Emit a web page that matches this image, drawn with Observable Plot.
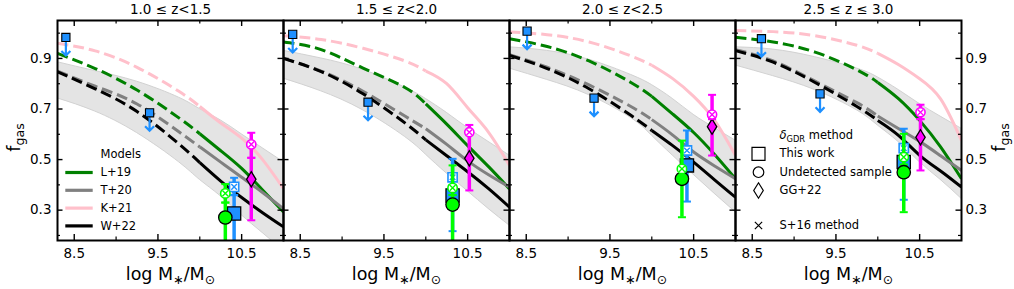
<!DOCTYPE html>
<html><head><meta charset="utf-8">
<script src="https://cdn.jsdelivr.net/npm/d3@7"></script>
<script src="https://cdn.jsdelivr.net/npm/@observablehq/plot@0.6"></script>
<style>body{margin:0;background:#fff} svg{display:block}</style>
</head><body><div id="chart"></div>
<script>
// ---------- data ----------
const panels = ["1.0 ≤ z<1.5", "1.5 ≤ z<2.0", "2.0 ≤ z<2.5", "2.5 ≤ z ≤ 3.0"];
const masses = [8.3, 8.75, 9.25, 9.75, 10.0, 10.25, 10.5, 10.75, 11.0];
const dashedUntil = 10.0;

const L19 = [
  [0.920, 0.860, 0.775, 0.665, 0.602, 0.535, 0.465, 0.380, 0.293],
  [0.965, 0.935, 0.862, 0.785, 0.720, 0.640, 0.555, 0.472, 0.384],
  [0.978, 0.947, 0.890, 0.805, 0.750, 0.680, 0.607, 0.520, 0.424],
  [0.984, 0.965, 0.925, 0.855, 0.805, 0.740, 0.655, 0.550, 0.424]
];
const T20 = [
  [0.850, 0.790, 0.720, 0.610, 0.550, 0.490, 0.430, 0.370, 0.305],
  [0.900, 0.850, 0.770, 0.672, 0.622, 0.560, 0.495, 0.440, 0.391],
  [0.915, 0.865, 0.795, 0.710, 0.658, 0.597, 0.530, 0.475, 0.424],
  [0.935, 0.890, 0.810, 0.725, 0.672, 0.622, 0.572, 0.515, 0.457]
];
const K21 = [
  [0.960, 0.930, 0.865, 0.770, 0.710, 0.645, 0.585, 0.500, 0.385],
  [0.990, 0.975, 0.940, 0.890, 0.850, 0.800, 0.705, 0.608, 0.477],
  [1.005, 0.994, 0.965, 0.910, 0.873, 0.820, 0.750, 0.655, 0.516],
  [1.010, 1.006, 0.990, 0.952, 0.920, 0.875, 0.820, 0.740, 0.575]
];
const W22 = [
  [0.847, 0.780, 0.690, 0.562, 0.488, 0.415, 0.350, 0.290, 0.234],
  [0.900, 0.848, 0.760, 0.645, 0.578, 0.515, 0.452, 0.385, 0.312],
  [0.912, 0.860, 0.780, 0.675, 0.615, 0.555, 0.490, 0.420, 0.351],
  [0.931, 0.885, 0.805, 0.710, 0.655, 0.595, 0.517, 0.455, 0.391]
];
const bandHi = [
  [0.885, 0.850, 0.808, 0.745, 0.700, 0.655, 0.600, 0.545, 0.490],
  [0.930, 0.900, 0.855, 0.785, 0.740, 0.685, 0.625, 0.570, 0.516],
  [0.944, 0.930, 0.895, 0.835, 0.795, 0.740, 0.677, 0.625, 0.575],
  [0.944, 0.935, 0.905, 0.860, 0.825, 0.775, 0.720, 0.670, 0.622]
];
const bandLo = [
  [0.742, 0.690, 0.605, 0.490, 0.420, 0.355, 0.280, 0.210, 0.140],
  [0.820, 0.770, 0.695, 0.590, 0.520, 0.445, 0.375, 0.305, 0.239],
  [0.860, 0.815, 0.755, 0.665, 0.595, 0.516, 0.440, 0.365, 0.292],
  [0.872, 0.830, 0.775, 0.695, 0.635, 0.569, 0.490, 0.420, 0.345]
];

// upper limits (blue squares with arrows)
const ulPanel = [0, 0, 1, 1, 2, 2, 3, 3];
const ulMass  = [8.40, 9.40, 8.41, 9.31, 8.51, 9.31, 8.61, 9.31];
const ulF     = [0.983, 0.685, 0.995, 0.727, 1.008, 0.743, 0.978, 0.760];

// This work (delta_GDR method) and its S+16 counterpart
const twMass = [10.41, 10.32, 10.42, 10.31];
const twF    = [0.287, 0.358, 0.477, 0.490];
const twLo   = [0.10, 0.217, 0.334, 0.341];
const twHi   = [0.36, 0.43, 0.50, 0.52];
const twsF   = [0.392, 0.430, 0.536, 0.545];
const twsLo  = [0.359, 0.40, 0.50, 0.52];
const twsHi  = [0.428, 0.503, 0.615, 0.622];

// Undetected sample
const udMass = [10.305, 10.32, 10.36, 10.31];
const udF    = [0.271, 0.322, 0.424, 0.450];
const udLo   = [0.10, 0.10, 0.272, 0.292];
const udHi   = [0.33, 0.36, 0.44, 0.48];
const udsF   = [0.366, 0.388, 0.463, 0.510];
const udsLo  = [0.33, 0.36, 0.44, 0.48];
const udsHi  = [0.403, 0.477, 0.575, 0.602];

// GG+22
const ggMass = [10.615, 10.52, 10.72, 10.51];
const ggF    = [0.422, 0.505, 0.630, 0.588];
const ggLo   = [0.26, 0.378, 0.516, 0.457];
const ggHi   = [0.507, 0.60, 0.66, 0.66];
const ggsF   = [0.560, 0.608, 0.678, 0.687];
const ggsLo  = [0.507, 0.60, 0.66, 0.66];
const ggsHi  = [0.606, 0.637, 0.756, 0.717];

const xMajor = [8.5, 9.5, 10.5], xMinor = [9.0, 10.0];
const yMajor = [0.3, 0.5, 0.7, 0.9], yMinor = [0.2, 0.4, 0.6, 0.8, 1.0];

const modelLabels = ["L+19", "T+20", "K+21", "W+22"];
const methodLabels = ["δ_{GDR} method", "This work", "Undetected sample", "GG+22", "S+16 method"];

// ---------- styling ----------
const BLUE = "#1e90ff", LIME = "#00ff00", MAG = "#ff00ff";
const models = [
  {key: "L+19", values: L19, color: "green"},
  {key: "T+20", values: T20, color: "grey"},
  {key: "K+21", values: K21, color: "pink"},
  {key: "W+22", values: W22, color: "black"}
];

const W = 1014, H = 289, mL = 56, mR = 52, mT = 20, mB = 49;
const fw = (W - mL - mR) / 4, fh = H - mT - mB;

// custom symbols
const hLine = {draw(c, s) { const h = Math.sqrt(s / Math.PI); c.moveTo(-h, 0); c.lineTo(h, 0); }};
const sq = {draw(c, s) { const h = Math.sqrt(s / Math.PI); c.moveTo(-h, -h); c.lineTo(h, -h); c.lineTo(h, h); c.lineTo(-h, h); c.closePath(); }};
const thinDiamond = {draw(c, s) { const h = Math.sqrt(s / Math.PI); c.moveTo(0, -h); c.lineTo(0.62 * h, 0); c.lineTo(0, h); c.lineTo(-0.62 * h, 0); c.closePath(); }};
const xCross = {draw(c, s) { const h = Math.sqrt(s / Math.PI) * 0.7071; c.moveTo(-h, -h); c.lineTo(h, h); c.moveTo(h, -h); c.lineTo(-h, h); }};
const downArrow = {draw(c) { c.moveTo(0, 0); c.lineTo(0, 18); c.moveTo(-4.5, 13.5); c.lineTo(0, 18); c.lineTo(4.5, 13.5); }};

// ---------- tables ----------
const lineRows = (vals) => panels.flatMap((p, i) => masses.map((m, j) => ({panel: p, mass: m, f: vals[i][j]})));
const bandRows = panels.flatMap((p, i) => masses.map((m, j) => ({panel: p, mass: m, lo: bandLo[i][j], hi: bandHi[i][j]})));
const ulRows = ulPanel.map((pi, k) => ({panel: panels[pi], x: ulMass[k], y: ulF[k]}));
const pts = (xs, ys, lo, hi) => panels.map((p, i) => ({panel: p, x: xs[i], y: ys[i], lo: lo[i], hi: hi[i]}));
const tw = pts(twMass, twF, twLo, twHi), tws = pts(twMass, twsF, twsLo, twsHi);
const ud = pts(udMass, udF, udLo, udHi), uds = pts(udMass, udsF, udsLo, udsHi);
const gg = pts(ggMass, ggF, ggLo, ggHi), ggs = pts(ggMass, ggsF, ggsLo, ggsHi);

function errorMarks(rows, color) {
  const caps = rows.flatMap(r => [{...r, v: r.lo}, {...r, v: r.hi}]);
  return [
    Plot.ruleX(rows, {fx: "panel", x: "x", y1: "lo", y2: "hi", stroke: color, strokeWidth: 3.5, clip: true}),
    Plot.dot(caps, {fx: "panel", x: "x", y: "v", symbol: hLine, r: 4, fill: "none", stroke: color, strokeWidth: 2, clip: true})
  ];
}
function crossedMarks(rows, color, symbol, r) {
  return [
    Plot.dot(rows, {fx: "panel", x: "x", y: "y", symbol, r, fill: "white", stroke: color, strokeWidth: 1.6}),
    Plot.dot(rows, {fx: "panel", x: "x", y: "y", symbol: xCross, r: r - 0.6, fill: "none", stroke: color, strokeWidth: 1.4})
  ];
}

const modelMarks = models.flatMap(md => {
  const rows = lineRows(md.values);
  return [
    Plot.line(rows.filter(d => d.mass <= dashedUntil), {fx: "panel", x: "mass", y: "f", curve: "natural", stroke: md.color, strokeWidth: 3, strokeDasharray: "11,5", strokeLinecap: "butt", clip: true}),
    Plot.line(rows.filter(d => d.mass >= dashedUntil), {fx: "panel", x: "mass", y: "f", curve: "natural", stroke: md.color, strokeWidth: 3, strokeLinecap: "butt", clip: true})
  ];
});

const P1 = [{panel: panels[0]}], P4 = [{panel: panels[3]}];
const legText = {fx: "panel", frameAnchor: "top-left", textAnchor: "start", lineAnchor: "middle", fontSize: 11.5};
const legendModels = [
  Plot.text(P1, {...legText, dx: 43, dy: 134, text: () => "Models"}),
  ...models.flatMap((md, i) => [
    Plot.dot(P1, {fx: "panel", frameAnchor: "top-left", dx: 21.5, dy: 152 + i * 17.8, symbol: hLine, r: 13.7, fill: "none", stroke: md.color, strokeWidth: 3.2}),
    Plot.text(P1, {...legText, dx: 43, dy: 152 + i * 17.8, text: () => modelLabels[i]})
  ])
];
const methodDy = [115, 133.3, 151.7, 170, 205];
const methodSym = [null, [sq, 6.5], ["circle", 5.3], [thinDiamond, 7.7], ["times", 3.4]];
const legendMethods = methodLabels.flatMap((lab, i) => {
  const m = [Plot.text(P4, {...legText, dx: 44, dy: methodDy[i], text: () => lab})];
  if (methodSym[i]) m.push(Plot.dot(P4, {fx: "panel", frameAnchor: "top-left", dx: 23, dy: methodDy[i], symbol: methodSym[i][0], r: methodSym[i][1], fill: "none", stroke: "black", strokeWidth: 1.2}));
  return m;
});

const tickMarks = [
  Plot.tickX(xMajor, {x: d => d, insetTop: fh - 6, stroke: "black", strokeWidth: 1.4}),
  Plot.tickX(xMajor, {x: d => d, insetBottom: fh - 6, stroke: "black", strokeWidth: 1.4}),
  Plot.tickX(xMinor, {x: d => d, insetTop: fh - 3.5, stroke: "black", strokeWidth: 1.2}),
  Plot.tickX(xMinor, {x: d => d, insetBottom: fh - 3.5, stroke: "black", strokeWidth: 1.2}),
  Plot.tickY(yMajor, {y: d => d, insetRight: fw - 6, stroke: "black", strokeWidth: 1.4}),
  Plot.tickY(yMajor, {y: d => d, insetLeft: fw - 6, stroke: "black", strokeWidth: 1.4}),
  Plot.tickY(yMinor, {y: d => d, insetRight: fw - 3.5, stroke: "black", strokeWidth: 1.2}),
  Plot.tickY(yMinor, {y: d => d, insetLeft: fw - 3.5, stroke: "black", strokeWidth: 1.2})
];

const chart = Plot.plot({
  width: W, height: H,
  marginLeft: mL, marginRight: mR, marginTop: mT, marginBottom: mB,
  style: {fontFamily: "'DejaVu Sans', sans-serif", fontSize: "13px", background: "white", color: "black", overflow: "visible"},
  fx: {domain: panels, padding: 0},
  x: {domain: [8.3, 11.0]},
  y: {domain: [0.18, 1.05]},
  marks: [
    Plot.areaY(bandRows, {fx: "panel", x: "mass", y1: "lo", y2: "hi", curve: "natural", fill: "#e4e4e4", stroke: "#d2d2d2", strokeWidth: 1, clip: true}),
    ...modelMarks,
    // upper limits
    Plot.dot(ulRows, {fx: "panel", x: "x", y: "y", symbol: downArrow, r: 3, fill: "none", stroke: BLUE, strokeWidth: 2.2}),
    Plot.dot(ulRows, {fx: "panel", x: "x", y: "y", symbol: sq, r: 4.1, fill: BLUE, stroke: "black", strokeWidth: 1.1}),
    // This work
    ...errorMarks(tw, BLUE), ...errorMarks(tws, BLUE),
    Plot.dot(tw, {fx: "panel", x: "x", y: "y", symbol: sq, r: 6.6, fill: BLUE, stroke: "black", strokeWidth: 1.3}),
    ...crossedMarks(tws, BLUE, sq, 4.6),
    // Undetected sample
    ...errorMarks(ud, LIME), ...errorMarks(uds, LIME),
    Plot.dot(ud, {fx: "panel", x: "x", y: "y", symbol: "circle", r: 6.7, fill: LIME, stroke: "black", strokeWidth: 1.3}),
    ...crossedMarks(uds, LIME, "circle", 4.7),
    // GG+22
    ...errorMarks(gg, MAG), ...errorMarks(ggs, MAG),
    Plot.dot(gg, {fx: "panel", x: "x", y: "y", symbol: thinDiamond, r: 7.6, fill: MAG, stroke: "black", strokeWidth: 1.3}),
    ...crossedMarks(ggs, MAG, "circle", 4.6),
    // axes
    ...tickMarks,
    Plot.frame({stroke: "black", strokeWidth: 2}),
    Plot.axisFx({anchor: "top", tickSize: 0, tickPadding: 7, label: null, fontSize: 13.5}),
    Plot.axisX({ticks: xMajor, tickFormat: d3.format(".1f"), tickSize: 0, tickPadding: 8, label: null, fontSize: 13.5}),
    Plot.axisY({anchor: "left", ticks: yMajor, tickFormat: d3.format(".1f"), tickSize: 0, tickPadding: 6, label: null, fontSize: 13.5}),
    Plot.axisY({anchor: "right", ticks: yMajor, tickFormat: d3.format(".1f"), tickSize: 0, tickPadding: 4, label: null, fontSize: 13.5}),
    Plot.text(panels.map(p => ({panel: p})), {fx: "panel", frameAnchor: "bottom", dy: 34, lineAnchor: "middle", textAnchor: "middle", text: () => "log M_{∗}/M_{⊙}", fontSize: 17.5}),
    Plot.text(P1, {fx: "panel", frameAnchor: "left", dx: -43, dy: 7, rotate: -90, textAnchor: "middle", lineAnchor: "middle", text: () => "f_{gas}", fontSize: 17.5}),
    Plot.text(P4, {fx: "panel", frameAnchor: "right", dx: 38, dy: 7, rotate: -90, textAnchor: "middle", lineAnchor: "middle", text: () => "f_{gas}", fontSize: 17.5}),
    ...legendModels,
    ...legendMethods
  ]
});
document.getElementById("chart").appendChild(chart);

// rich text: subscripts written as _{...}, italic delta
(function richText(svg) {
  const ns = "http://www.w3.org/2000/svg";
  for (const t of svg.querySelectorAll("text")) {
    const s = t.textContent;
    if (!s.includes("_{")) continue;
    const fs = parseFloat(getComputedStyle(t).fontSize) || 12;
    const sh = 0.24 * fs;
    while (t.firstChild) t.removeChild(t.firstChild);
    let down = false;
    const add = (str, sub) => {
      if (!str) return;
      const ts = document.createElementNS(ns, "tspan");
      if (sub) { ts.setAttribute("font-size", (0.72 * fs).toFixed(2) + "px"); ts.setAttribute("dy", sh.toFixed(2)); }
      else if (down) ts.setAttribute("dy", (-sh).toFixed(2));
      if (!sub && str === "δ") ts.setAttribute("font-style", "italic");
      down = sub;
      ts.textContent = str;
      t.appendChild(ts);
    };
    const re = /_\{([^}]*)\}/g;
    let last = 0, m;
    while ((m = re.exec(s))) { add(s.slice(last, m.index), false); add(m[1], true); last = re.lastIndex; }
    add(s.slice(last), false);
  }
})(chart);
</script>
</body></html>
